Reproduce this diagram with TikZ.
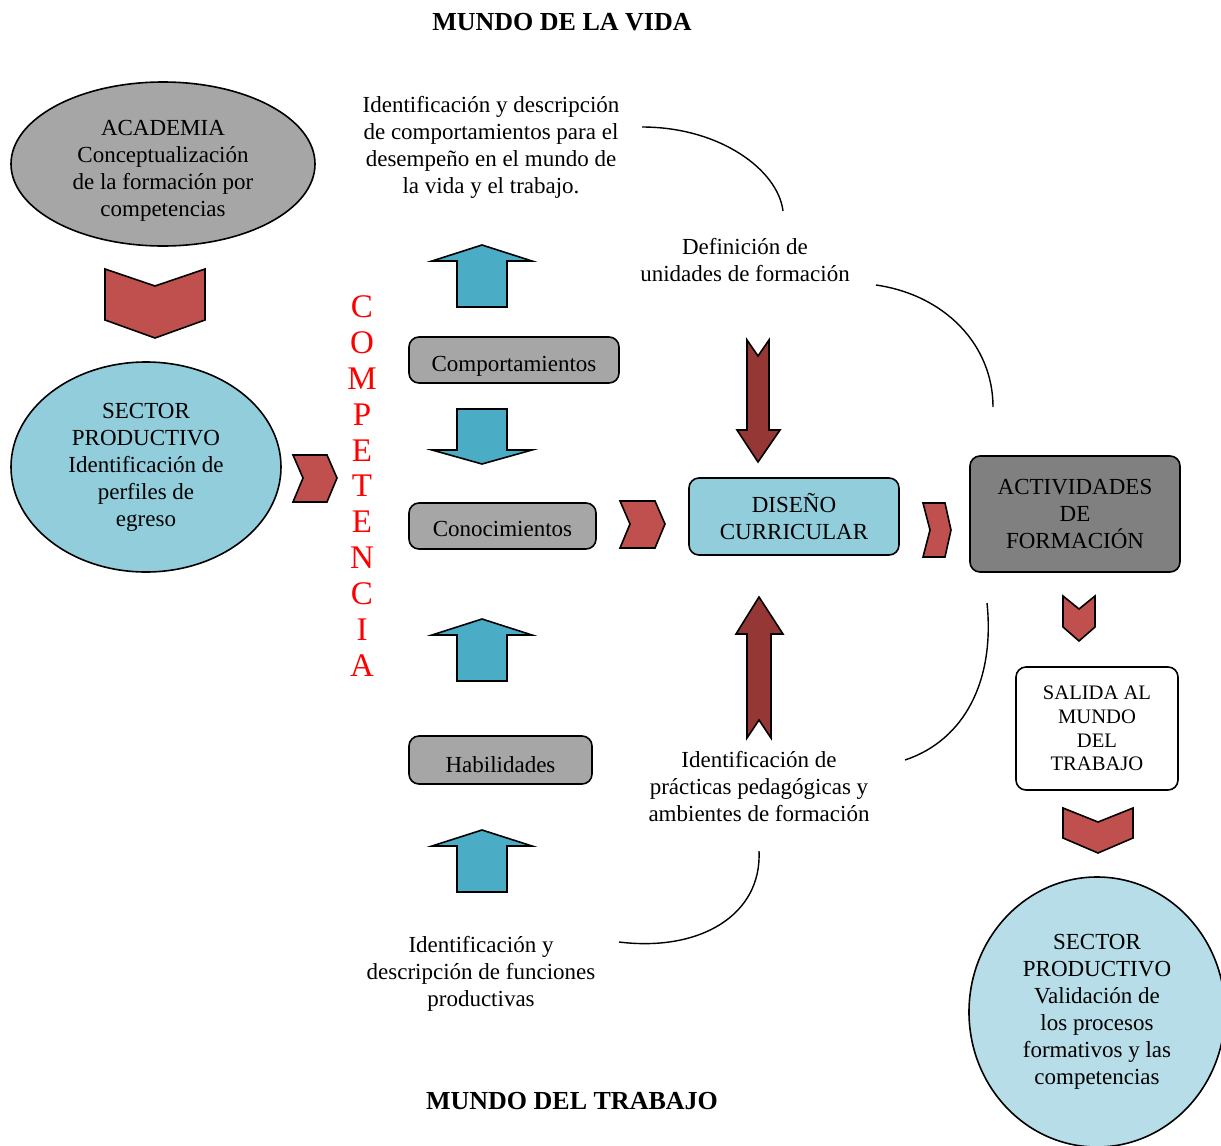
\documentclass[tikz,border=0pt]{standalone}
\usepackage{fontspec}
\setmainfont{Liberation Serif}
\usetikzlibrary{positioning,shapes.geometric}
\definecolor{grisbox}{HTML}{A6A6A6}
\definecolor{grisosc}{HTML}{808080}
\definecolor{azulclaro}{HTML}{92CDDC}
\definecolor{azulpalido}{HTML}{B7DDE8}
\definecolor{azulflecha}{HTML}{4BACC6}
\definecolor{rojo}{HTML}{C0504D}
\definecolor{rojoosc}{HTML}{953735}

\begin{document}
\begin{tikzpicture}[x=0.5pt, y=-0.5pt,
  every node/.style={font=\fontsize{11.5}{13.5}\selectfont},
  elip/.style={draw, ellipse, line width=0.8pt, align=center, inner sep=0pt},
  caja/.style={draw, rounded corners=5pt, line width=0.8pt, align=center, inner sep=2pt},
  txt/.style={align=center, inner sep=1pt},
  flecha/.style={draw, line width=0.8pt, fill=azulflecha},
  chev/.style={draw, line width=0.8pt, fill=rojo},
  chevosc/.style={draw, line width=0.8pt, fill=rojoosc},
  arco/.style={line width=0.7pt},
  titulo/.style={font=\fontsize{13}{15}\selectfont\bfseries}]
\useasboundingbox (0,0) rectangle (1221,1146);

% titulos
\node[titulo] (tvida) at (562,22) {MUNDO DE LA VIDA};
\node[titulo] (ttrab) at (572,1101) {MUNDO DEL TRABAJO};

% columna izquierda
\node[elip, fill=grisbox, minimum width=152pt, minimum height=82pt] (acad) at (163,164)
  {\rule{0pt}{14.6pt}ACADEMIA\\Conceptualización\\de la formación por\\competencias};
\node[elip, fill=azulclaro, minimum width=135pt, minimum height=105pt] (sect) at (146,467)
  {SECTOR\\PRODUCTIVO\\Identificación de\\perfiles de\\egreso};
\node[red, align=center, inner sep=0pt, font=\fontsize{16.5}{17.95}\selectfont] (compe) at (362,486)
  {C\\O\\M\\P\\E\\T\\E\\N\\C\\I\\A};

% cajas centrales
\node[caja, fill=grisbox, minimum width=105pt, minimum height=23pt] (comp) at (514,360) {\rule{0pt}{13.9pt}Comportamientos};
\node[caja, fill=grisbox, minimum width=93.5pt, minimum height=23pt] (cono) at (502.5,526) {\rule{0pt}{10.6pt}Conocimientos};
\node[caja, fill=grisbox, minimum width=91.5pt, minimum height=24pt] (habi) at (500.5,760) {\rule{0pt}{12.9pt}Habilidades};
\node[caja, fill=azulclaro, minimum width=105pt, minimum height=38.5pt] (dise) at (794,516.5) {DISEÑO\\CURRICULAR};
\node[caja, fill=grisosc, minimum width=105pt, minimum height=58pt] (acti) at (1075,514) {ACTIVIDADES\\DE\\FORMACIÓN};
\node[caja, minimum width=81pt, minimum height=61.5pt, font=\fontsize{10.3}{11.9}\selectfont] (sali) at (1097,728.5)
  {SALIDA AL\\MUNDO\\DEL\\TRABAJO};
\node[elip, fill=azulpalido, minimum width=128pt, minimum height=135pt] (vali) at (1097,1012)
  {SECTOR\\PRODUCTIVO\\Validación de\\los procesos\\formativos y las\\competencias};

% textos
\node[txt] (idvida) at (491,147) {Identificación y descripción\\de comportamientos para el\\desempeño en el mundo de\\la vida y el trabajo.};
\node[txt] (defi) at (745,260) {Definición de\\unidades de formación};
\node[txt] (prac) at (759,787) {Identificación de\\prácticas pedagógicas y\\ambientes de formación};
\node[txt] (func) at (481,974) {Identificación y\\descripción de funciones\\productivas};

% flechas azules
\foreach \y in {245,619,830}
  \draw[flecha] (482,\y) -- ++(50,16) -- ++(-25,0) -- ++(0,46) -- ++(-50,0) -- ++(0,-46) -- ++(-25,0) -- cycle;
\draw[flecha] (482,464) -- ++(-50,-14) -- ++(25,0) -- ++(0,-41) -- ++(50,0) -- ++(0,41) -- ++(25,0) -- cycle;

% flechas rojo oscuro
\draw[chevosc] (758,462) -- (737,430) -- (747,430) -- (747,340) -- (758,356) -- (769,340) -- (769,430) -- (780,430) -- cycle;
\draw[chevosc] (759,597) -- (783,634) -- (771,634) -- (771,738) -- (759,720) -- (747,738) -- (747,634) -- (736,634) -- cycle;

% chevrones
\draw[chev] (105,269) -- (155,286) -- (205,269) -- (205,320) -- (155,338) -- (105,320) -- cycle;
\draw[chev] (293,455) -- (327,455) -- (337,478) -- (327,502) -- (293,502) -- (303,478) -- cycle;
\draw[chev] (620,501) -- (655,501) -- (665,524) -- (655,548) -- (620,548) -- (630,524) -- cycle;
\draw[chev] (923,503) -- (945,503) -- (951,530) -- (945,557) -- (923,557) -- (930,530) -- cycle;
\draw[chev] (1063,596) -- (1079,609) -- (1095,596) -- (1095,627) -- (1079,641) -- (1063,627) -- cycle;
\draw[chev] (1063,808) -- (1098,822) -- (1133,808) -- (1133,838) -- (1098,853) -- (1063,838) -- cycle;

% arcos
\coordinate (a1) at (642,127);
\coordinate (b1) at (783,211);
\coordinate (a2) at (876,285);
\coordinate (b2) at (993,407);
\coordinate (a3) at (987,603);
\coordinate (b3) at (905,760);
\coordinate (a4) at (759,851);
\coordinate (b4) at (619,942);
\draw[arco] (a1) .. controls (720,127) and (778,170) .. (b1);
\draw[arco] (a2) .. controls (945,295) and (993,345) .. (b2);
\draw[arco] (a3) .. controls (995,680) and (965,740) .. (b3);
\draw[arco] (a4) .. controls (762,915) and (700,952) .. (b4);
\end{tikzpicture}
\end{document}
